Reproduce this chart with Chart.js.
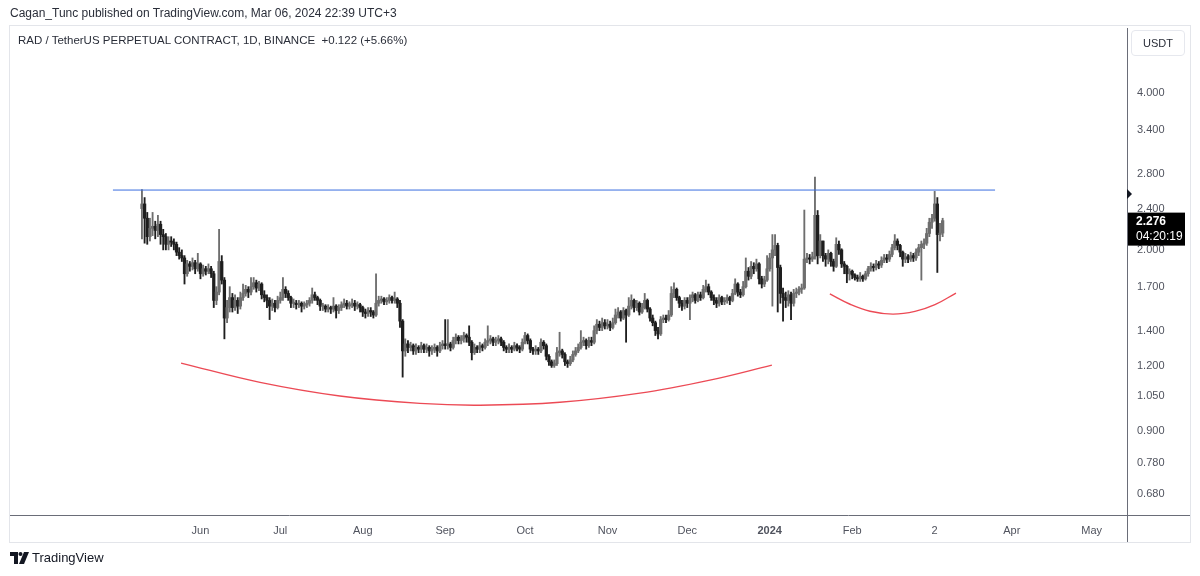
<!DOCTYPE html>
<html>
<head>
<meta charset="utf-8">
<script src="https://cdn.jsdelivr.net/npm/chart.js@4.4.0/dist/chart.umd.min.js"></script>
<style>
  body { margin: 0; background: #fff; font-family: "Liberation Sans", Arial, sans-serif; }
  #wrap { position: relative; width: 1200px; height: 576px; overflow: hidden; }
  canvas { position: absolute; left: 0; top: 0; }
  .txt { position: absolute; white-space: nowrap; color: #2a2e39; }
</style>
</head>
<body>
<div id="wrap">
  <canvas id="chart" width="1200" height="576"></canvas>
  <div class="txt" style="left:10px;top:6px;font-size:12px;">Cagan_Tunc published on TradingView.com, Mar 06, 2024 22:39 UTC+3</div>
  <div class="txt" style="left:18px;top:34px;font-size:11.5px;">RAD / TetherUS PERPETUAL CONTRACT, 1D, BINANCE&nbsp; +0.122 (+5.66%)</div>
  <div class="txt" style="left:1131px;top:30px;width:52px;height:24px;border:1px solid #e6e8ee;border-radius:4px;font-size:11px;line-height:24px;text-align:center;">USDT</div>
  <svg style="position:absolute;left:10px;top:552px" width="20" height="12" viewBox="0 0 20 12">
    <path d="M0 0h8v12H4V4H0z" fill="#131722"/>
    <circle cx="10.5" cy="2" r="2" fill="#131722"/>
    <path d="M14 0h5l-5 12h-5z" fill="#131722"/>
  </svg>
  <div class="txt" style="left:32px;top:550px;font-size:13px;color:#131722;">TradingView</div>
</div>

<script>
// day 0 = 2023-05-10, one candle per day up to 2024-03-06
const firstOpen = 2.40;

const close = [
  // May
  2.45, 2.30, 2.12, 2.20, 2.22, 2.18, 2.24, 2.14, 2.12, 2.05, 2.08, 2.07, 2.05, 1.98, 1.95, 1.93, 1.80, 1.88, 1.86, 1.89, 1.84, 1.88,
  // Jun
  1.80, 1.84, 1.82, 1.84, 1.80, 1.60, 1.66, 1.90, 1.75, 1.48, 1.55, 1.62, 1.55, 1.60, 1.56, 1.62, 1.65, 1.68, 1.66, 1.70,
  1.73, 1.69, 1.72, 1.64, 1.62, 1.60, 1.56, 1.58, 1.55, 1.60,
  // Jul
  1.62, 1.68, 1.65, 1.62, 1.58, 1.58, 1.57, 1.58, 1.56, 1.57, 1.58, 1.60, 1.64, 1.62, 1.60, 1.56, 1.56, 1.54, 1.55, 1.54,
  1.56, 1.53, 1.55, 1.57, 1.58, 1.56, 1.57, 1.58, 1.56, 1.57, 1.55,
  // Aug
  1.52, 1.51, 1.53, 1.52, 1.50, 1.58, 1.60, 1.61, 1.59, 1.60, 1.62, 1.60, 1.61, 1.58, 1.46, 1.28, 1.32, 1.30, 1.31, 1.28,
  1.30, 1.29, 1.31, 1.29, 1.30, 1.28, 1.29, 1.30, 1.28, 1.31, 1.32,
  // Sep
  1.31, 1.32, 1.30, 1.34, 1.36, 1.34, 1.35, 1.37, 1.36, 1.33, 1.27, 1.30, 1.29, 1.31, 1.30, 1.33, 1.34, 1.35, 1.33, 1.34,
  1.35, 1.33, 1.30, 1.29, 1.30, 1.29, 1.31, 1.30, 1.29, 1.33,
  // Oct
  1.37, 1.34, 1.29, 1.28, 1.29, 1.28, 1.33, 1.31, 1.25, 1.22, 1.20, 1.21, 1.27, 1.28, 1.26, 1.22, 1.21, 1.23, 1.26, 1.28,
  1.30, 1.33, 1.34, 1.31, 1.34, 1.33, 1.40, 1.44, 1.42, 1.45, 1.43,
  // Nov
  1.44, 1.42, 1.45, 1.50, 1.52, 1.48, 1.53, 1.50, 1.56, 1.60, 1.55, 1.58, 1.52, 1.55, 1.60, 1.54, 1.48, 1.45, 1.40, 1.38,
  1.47, 1.48, 1.47, 1.50, 1.65, 1.68, 1.62, 1.58, 1.56, 1.60,
  // Dec
  1.58, 1.62, 1.64, 1.60, 1.64, 1.62, 1.68, 1.70, 1.66, 1.62, 1.60, 1.58, 1.62, 1.59, 1.60, 1.62, 1.60, 1.65, 1.72, 1.66,
  1.64, 1.70, 1.82, 1.78, 1.86, 1.84, 1.88, 1.76, 1.72, 1.75, 1.84,
  // Jan
  1.93, 2.00, 2.04, 1.85, 1.65, 1.62, 1.60, 1.64, 1.58, 1.65, 1.66, 1.68, 1.69, 1.92, 1.93, 1.92, 1.94, 2.33, 1.95, 2.08,
  1.95, 1.92, 1.97, 1.90, 1.86, 2.05, 2.00, 1.88, 1.86, 1.80, 1.82,
  // Feb
  1.79, 1.77, 1.76, 1.78, 1.76, 1.80, 1.84, 1.86, 1.85, 1.88, 1.87, 1.91, 1.93, 1.92, 1.96, 2.02, 2.08, 2.04, 1.98, 1.92,
  1.94, 1.92, 1.95, 1.93, 1.98, 2.02, 2.05, 2.06, 2.15,
  // Mar
  2.26, 2.30, 2.45, 2.14, 2.154, 2.276
];

const high = [
  2.61, 2.52, 2.36, 2.30, 2.36, 2.27, 2.33, 2.27, 2.19, 2.15,
  2.12, 2.12, 2.10, 2.07, 2.02, 2.00, 1.95, 1.91, 1.90, 1.93,
  1.91, 1.97, 1.89, 1.87, 1.86, 1.88, 1.86, 1.82, 1.70, 2.19,
  1.95, 1.77, 1.60, 1.70, 1.65, 1.64, 1.62, 1.66, 1.72, 1.71,
  1.70, 1.77, 1.77, 1.75, 1.74, 1.73, 1.67, 1.64, 1.62, 1.61,
  1.60, 1.63, 1.66, 1.77, 1.70, 1.67, 1.63, 1.61, 1.60, 1.60,
  1.59, 1.59, 1.60, 1.62, 1.69, 1.66, 1.63, 1.61, 1.58, 1.57,
  1.57, 1.56, 1.62, 1.57, 1.57, 1.59, 1.61, 1.60, 1.59, 1.61,
  1.60, 1.59, 1.58, 1.56, 1.54, 1.55, 1.55, 1.53, 1.80, 1.63,
  1.63, 1.62, 1.62, 1.64, 1.63, 1.66, 1.62, 1.60, 1.47, 1.35,
  1.34, 1.33, 1.32, 1.32, 1.31, 1.33, 1.32, 1.32, 1.31, 1.31,
  1.32, 1.31, 1.33, 1.34, 1.47, 1.47, 1.33, 1.36, 1.38, 1.37,
  1.37, 1.39, 1.38, 1.43, 1.34, 1.32, 1.31, 1.33, 1.32, 1.35,
  1.43, 1.37, 1.36, 1.36, 1.37, 1.36, 1.34, 1.31, 1.32, 1.31,
  1.33, 1.32, 1.31, 1.35, 1.39, 1.38, 1.35, 1.30, 1.31, 1.30,
  1.35, 1.34, 1.32, 1.26, 1.23, 1.23, 1.30, 1.39, 1.29, 1.27,
  1.23, 1.25, 1.28, 1.30, 1.32, 1.40, 1.36, 1.35, 1.36, 1.36,
  1.43, 1.47, 1.46, 1.48, 1.47, 1.47, 1.46, 1.48, 1.54, 1.55,
  1.53, 1.55, 1.54, 1.62, 1.64, 1.61, 1.60, 1.59, 1.58, 1.65,
  1.61, 1.55, 1.50, 1.46, 1.42, 1.49, 1.50, 1.50, 1.53, 1.70,
  1.73, 1.69, 1.63, 1.60, 1.62, 1.62, 1.64, 1.66, 1.65, 1.66,
  1.66, 1.71, 1.75, 1.72, 1.67, 1.64, 1.62, 1.64, 1.63, 1.62,
  1.64, 1.63, 1.68, 1.76, 1.73, 1.68, 1.74, 1.93, 1.85, 1.90,
  1.89, 1.92, 1.89, 1.78, 1.78, 1.95, 1.97, 2.14, 2.14, 2.06,
  1.87, 1.69, 1.66, 1.67, 1.66, 1.68, 1.69, 1.70, 1.72, 2.385,
  1.97, 1.96, 1.98, 2.76, 2.38, 2.14, 2.06, 1.97, 2.00, 1.98,
  1.92, 2.11, 2.08, 2.01, 1.90, 1.87, 1.84, 1.83, 1.80, 1.79,
  1.81, 1.79, 1.82, 1.86, 1.89, 1.88, 1.91, 1.90, 1.94, 1.96,
  1.96, 1.99, 2.05, 2.14, 2.10, 2.05, 1.99, 1.97, 1.96, 1.98,
  1.97, 2.01, 2.05, 2.08, 2.10, 2.20, 2.30, 2.34, 2.59, 2.52,
  2.25, 2.30
];

const low = [
  2.10, 2.06, 2.05, 2.08, 2.13, 2.10, 2.12, 2.05, 2.00, 2.00,
  2.00, 2.03, 2.00, 1.95, 1.92, 1.90, 1.72, 1.78, 1.82, 1.83,
  1.80, 1.82, 1.76, 1.78, 1.79, 1.80, 1.77, 1.55, 1.57, 1.64,
  1.72, 1.35, 1.45, 1.52, 1.52, 1.53, 1.51, 1.54, 1.60, 1.63,
  1.62, 1.64, 1.68, 1.66, 1.67, 1.61, 1.59, 1.55, 1.47, 1.53,
  1.52, 1.54, 1.58, 1.60, 1.62, 1.60, 1.55, 1.55, 1.54, 1.55,
  1.52, 1.54, 1.55, 1.56, 1.58, 1.60, 1.57, 1.53, 1.53, 1.52,
  1.52, 1.51, 1.52, 1.48, 1.51, 1.53, 1.55, 1.54, 1.54, 1.55,
  1.53, 1.54, 1.52, 1.49, 1.48, 1.49, 1.49, 1.48, 1.49, 1.56,
  1.58, 1.57, 1.57, 1.58, 1.58, 1.58, 1.55, 1.42, 1.14, 1.25,
  1.27, 1.28, 1.26, 1.26, 1.27, 1.27, 1.27, 1.27, 1.25, 1.26,
  1.27, 1.25, 1.27, 1.29, 1.29, 1.29, 1.28, 1.29, 1.32, 1.32,
  1.32, 1.33, 1.33, 1.31, 1.23, 1.26, 1.27, 1.27, 1.28, 1.29,
  1.31, 1.32, 1.31, 1.31, 1.32, 1.31, 1.28, 1.27, 1.27, 1.27,
  1.28, 1.28, 1.27, 1.28, 1.32, 1.32, 1.27, 1.26, 1.26, 1.26,
  1.27, 1.29, 1.23, 1.20, 1.19, 1.19, 1.20, 1.25, 1.24, 1.20,
  1.19, 1.20, 1.22, 1.25, 1.27, 1.29, 1.31, 1.29, 1.30, 1.31,
  1.32, 1.38, 1.40, 1.40, 1.41, 1.41, 1.40, 1.41, 1.44, 1.48,
  1.46, 1.47, 1.33, 1.49, 1.54, 1.52, 1.53, 1.50, 1.51, 1.54,
  1.52, 1.46, 1.43, 1.37, 1.35, 1.37, 1.45, 1.45, 1.46, 1.49,
  1.62, 1.60, 1.55, 1.53, 1.54, 1.55, 1.47, 1.59, 1.58, 1.59,
  1.60, 1.61, 1.66, 1.64, 1.60, 1.57, 1.55, 1.56, 1.57, 1.57,
  1.58, 1.57, 1.59, 1.64, 1.63, 1.62, 1.63, 1.69, 1.75, 1.76,
  1.80, 1.82, 1.72, 1.69, 1.70, 1.74, 1.82, 1.56, 1.95, 1.52,
  1.58, 1.46, 1.55, 1.56, 1.47, 1.56, 1.62, 1.64, 1.65, 1.68,
  1.89, 1.88, 1.90, 1.92, 1.88, 1.93, 1.90, 1.86, 1.88, 1.86,
  1.82, 1.85, 1.96, 1.85, 1.80, 1.73, 1.75, 1.76, 1.75, 1.74,
  1.74, 1.74, 1.75, 1.78, 1.82, 1.82, 1.83, 1.84, 1.85, 1.89,
  1.89, 1.90, 1.94, 2.00, 2.00, 1.94, 1.86, 1.89, 1.89, 1.90,
  1.90, 1.91, 1.95, 1.75, 2.01, 2.04, 2.12, 2.20, 2.27, 1.81,
  2.08, 2.12
];

// month ticks (day numbers from 2023-05-10)
const tickDays = [22, 52, 83, 114, 144, 175, 205, 236, 267, 298, 327, 357];
const tickLabels = ['Jun', 'Jul', 'Aug', 'Sep', 'Oct', 'Nov', 'Dec', '2024', 'Feb', '2', 'Apr', 'May'];
const priceTicks = [0.68, 0.78, 0.9, 1.05, 1.2, 1.4, 1.7, 2.0, 2.4, 2.8, 3.4, 4.0];

// drawings on the chart
const resistX = [-10.9, 320.7];
const resistY = [2.605, 2.605];
const bigArcX = [14.7, 44.4, 74.4, 104.5, 127.1, 157.1, 187.2, 213.5, 236.8];
const bigArcY = [1.213, 1.114, 1.049, 1.015, 1.007, 1.020, 1.062, 1.125, 1.202];
const smallArcX = [258.6, 266.2, 273.7, 282.3, 290.6, 298.1, 306.0];
const smallArcY = [1.646, 1.573, 1.525, 1.506, 1.524, 1.570, 1.653];

const lastPrice = 2.276;
const countdown = '04:20:19';
const markerPrice = 2.56;

const UP = '#6e6e6e';
const DOWN = '#1e1e1e';

const open = close.map((c, i) => (i ? close[i - 1] : firstOpen));
const isUp = close.map((c, i) => c >= open[i]);
const wicks = close.map((c, i) => ({ x: i, y: [Math.min(low[i], open[i], c), Math.max(high[i], open[i], c)] }));
const bodies = close.map((c, i) => ({ x: i, y: [open[i], c] }));
const candleColors = isUp.map(u => (u ? UP : DOWN));
const toPts = (xs, ys) => xs.map((x, i) => ({ x: x, y: ys[i] }));

const frame = {
  id: 'frame',
  beforeDraw(chart) {
    const ctx = chart.ctx;
    ctx.save();
    ctx.fillStyle = '#fff';
    ctx.fillRect(0, 0, chart.width, chart.height);
    ctx.strokeStyle = '#e3e5ea';
    ctx.lineWidth = 1;
    ctx.strokeRect(9.5, 25.5, 1181, 517);
    ctx.restore();
  },
  afterDraw(chart) {
    const { ctx, chartArea, scales } = chart;
    const y = scales.y;
    ctx.save();
    ctx.strokeStyle = '#6a6d78';
    ctx.lineWidth = 1;
    ctx.beginPath();
    ctx.moveTo(chartArea.right + 0.5, chartArea.bottom);
    ctx.lineTo(chartArea.right + 0.5, 542);
    ctx.moveTo(chartArea.right, chartArea.bottom + 0.5);
    ctx.lineTo(1190, chartArea.bottom + 0.5);
    ctx.stroke();

    // marker triangle
    const my = y.getPixelForValue(markerPrice);
    ctx.fillStyle = '#131722';
    ctx.beginPath();
    ctx.moveTo(chartArea.right, my - 5);
    ctx.lineTo(chartArea.right + 5, my);
    ctx.lineTo(chartArea.right, my + 5);
    ctx.closePath();
    ctx.fill();

    // last price tag
    const py = y.getPixelForValue(lastPrice);
    ctx.fillStyle = '#000';
    ctx.fillRect(chartArea.right + 1, py - 8, 57, 33);
    ctx.fillStyle = '#fff';
    ctx.textBaseline = 'middle';
    ctx.textAlign = 'left';
    ctx.font = 'bold 12px "Liberation Sans", Arial';
    ctx.fillText(lastPrice.toFixed(3), chartArea.right + 9, py + 1);
    ctx.font = '12px "Liberation Sans", Arial';
    ctx.fillText(countdown, chartArea.right + 9, py + 16);
    ctx.restore();
  }
};

Chart.defaults.font.family = '"Liberation Sans", Arial, sans-serif';
Chart.defaults.font.size = 11;
Chart.defaults.color = '#50535e';

new Chart(document.getElementById('chart'), {
  type: 'bar',
  data: {
    datasets: [
      {
        type: 'line',
        data: toPts(resistX, resistY),
        borderColor: '#3a6ee0',
        borderWidth: 1,
        pointRadius: 0,
        order: 0
      },
      {
        type: 'line',
        data: toPts(bigArcX, bigArcY),
        borderColor: '#ec4a55',
        borderWidth: 1.4,
        pointRadius: 0,
        tension: 0.4,
        order: 0
      },
      {
        type: 'line',
        data: toPts(smallArcX, smallArcY),
        borderColor: '#ec4a55',
        borderWidth: 1.4,
        pointRadius: 0,
        tension: 0.4,
        order: 0
      },
      {
        data: bodies,
        backgroundColor: candleColors,
        borderWidth: 0,
        barThickness: 2.6,
        minBarLength: 1,
        grouped: false,
        order: 1
      },
      {
        data: wicks,
        backgroundColor: candleColors,
        barThickness: 1.2,
        grouped: false,
        order: 2
      }
    ]
  },
  options: {
    responsive: false,
    animation: false,
    layout: { padding: { left: 10, top: 28, right: 10, bottom: 34 } },
    plugins: {
      legend: { display: false },
      tooltip: { enabled: false }
    },
    scales: {
      x: {
        type: 'linear',
        offset: false,
        bounds: 'data',
        min: -49.6,
        max: 370.3,
        grid: { display: false, drawTicks: false, offset: false },
        border: { display: true, color: '#6a6d78' },
        afterBuildTicks: s => { s.ticks = tickDays.map(v => ({ value: v })); },
        afterFit: s => { s.height = 27; },
        ticks: {
          autoSkip: false,
          maxRotation: 0,
          padding: 9,
          callback: (v, i) => tickLabels[i],
          font: ctx => ({ weight: tickLabels[ctx.index] === '2024' ? 'bold' : 'normal' })
        }
      },
      y: {
        type: 'logarithmic',
        position: 'right',
        bounds: 'data',
        min: 0.62,
        max: 5.33,
        grid: { display: false, drawTicks: false },
        border: { display: true, color: '#6a6d78' },
        afterBuildTicks: s => { s.ticks = priceTicks.map(v => ({ value: v })); },
        afterFit: s => { s.width = 63; },
        ticks: {
          padding: 10,
          callback: v => Number(v).toFixed(3)
        }
      }
    }
  },
  plugins: [frame]
});
</script>
</body>
</html>
